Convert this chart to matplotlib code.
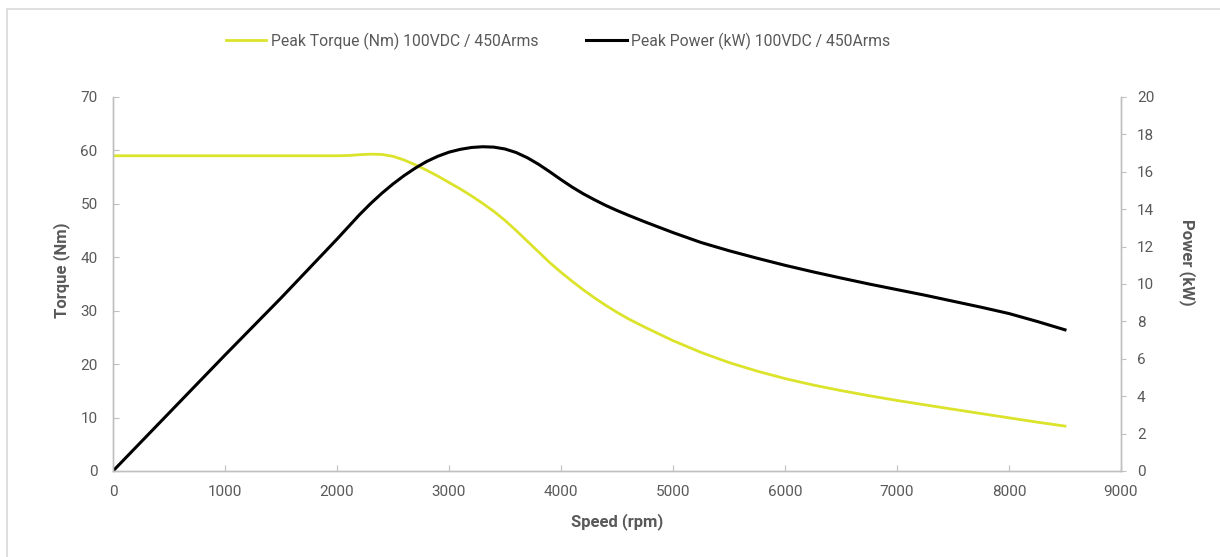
import matplotlib
matplotlib.use("Agg")
import matplotlib.pyplot as plt
from matplotlib.patches import Rectangle

# speed points (rpm) and values
speed_t = [0, 500, 1000, 1500, 2000, 2100, 2200, 2300, 2400, 2500, 2600, 2700,
           2800, 2900, 3000, 3100, 3200, 3300, 3400, 3500, 3600, 3700, 3800,
           3900, 4000, 4100, 4200, 4300, 4400, 4500, 4600, 4750, 5000, 5250,
           5500, 5750, 6000, 6250, 6500, 6750, 7000, 7250, 7500, 7750, 8000,
           8250, 8500]
torque = [59, 59, 59, 59, 59, 59.05, 59.2, 59.3, 59.25, 58.9, 58.2, 57.3,
          56.3, 55.2, 54.0, 52.8, 51.5, 50.1, 48.6, 46.9, 45.0, 43.0, 41.0,
          39.0, 37.2, 35.5, 33.9, 32.4, 31.0, 29.7, 28.5, 26.9, 24.4, 22.2,
          20.3, 18.7, 17.3, 16.1, 15.05, 14.1, 13.2, 12.38, 11.56, 10.75, 9.95,
          9.15, 8.4]

speed_p = [0, 500, 1000, 1500, 2000, 2100, 2200, 2300, 2400, 2500, 2600, 2700,
           2800, 2900, 3000, 3100, 3200, 3300, 3400, 3500, 3600, 3700, 3800,
           3900, 4000, 4100, 4200, 4300, 4400, 4500, 4600, 4750, 5000, 5250,
           5500, 5750, 6000, 6250, 6500, 6750, 7000, 7250, 7500, 7750, 8000,
           8250, 8500]
power = [0, 3.1, 6.2, 9.25, 12.4, 13.05, 13.7, 14.3, 14.85, 15.35, 15.8, 16.2,
         16.55, 16.83, 17.05, 17.2, 17.3, 17.34, 17.32, 17.22, 17.03, 16.75, 16.4,
         16.0, 15.58, 15.18, 14.82, 14.5, 14.2, 13.93, 13.68, 13.32, 12.75, 12.22,
         11.78, 11.38, 11.0, 10.65, 10.32, 10.0, 9.7, 9.4, 9.08, 8.76, 8.42,
         8.0, 7.55]

x_ticks = [0, 1000, 2000, 3000, 4000, 5000, 6000, 7000, 8000, 9000]
t_ticks = [0, 10, 20, 30, 40, 50, 60, 70]
p_ticks = [0, 2, 4, 6, 8, 10, 12, 14, 16, 18, 20]

label_torque = "Peak Torque (Nm) 100VDC / 450Arms"
label_power = "Peak Power (kW) 100VDC / 450Arms"

plt.rcParams['font.family'] = ['Roboto', 'DejaVu Sans']
grey = '#595959'
spine_c = '#bfbfbf'

fig = plt.figure(figsize=(12.2, 5.57), dpi=100)
ax = fig.add_axes([113/1220, 1-471/557, (1121-113)/1220, (471-97)/557])
ax2 = ax.twinx()

l1, = ax.plot(speed_t, torque, color='#dbe32b', lw=2.0, label=label_torque,
              solid_joinstyle='round')
l2, = ax2.plot(speed_p, power, color='black', lw=2.2, label=label_power,
               solid_joinstyle='round')

ax.set_xlim(0, 9000)
ax.set_ylim(0, 70)
ax2.set_ylim(0, 20)
ax.set_xticks(x_ticks)
ax.set_yticks(t_ticks)
ax2.set_yticks(p_ticks)

for a in (ax, ax2):
    a.spines['top'].set_visible(False)
    for s in ('left', 'right', 'bottom'):
        a.spines[s].set_color(spine_c)
        a.spines[s].set_linewidth(1.0)
ax.tick_params(axis='x', direction='in', length=4, color=spine_c,
               labelcolor=grey, labelsize=11, pad=10)
ax.tick_params(axis='y', direction='in', length=4, color=spine_c,
               labelcolor=grey, labelsize=11, pad=11)
ax2.tick_params(axis='y', direction='out', length=3.5, color=spine_c,
                labelcolor=grey, labelsize=11, pad=8)

fig.text(62/1220, 1-270/557, "Torque (Nm)", rotation=90, ha='center',
         va='center', color=grey, fontsize=12, fontweight='bold')
fig.text(1187/1220, 1-262/557, "Power (kW)", rotation=270, ha='center',
         va='center', color=grey, fontsize=12, fontweight='bold')
fig.text(617/1220, 1-522/557, "Speed (rpm)", ha='center', va='center',
         color=grey, fontsize=12, fontweight='bold')

fig.legend(handles=[l1, l2], loc='center', ncol=2, frameon=False,
           bbox_to_anchor=(558/1220, 1-41/557), fontsize=11.3,
           labelcolor=grey, handlelength=2.6, handletextpad=0.3,
           columnspacing=3.0)

# light border of the chart area
fig.patches.append(Rectangle((7/1220, -0.1), 1.2, 1-9/557+0.1,
                             transform=fig.transFigure, fill=False,
                             edgecolor='#d9d9d9', lw=1.2))

fig.savefig('out.png', dpi=100, facecolor='white')
